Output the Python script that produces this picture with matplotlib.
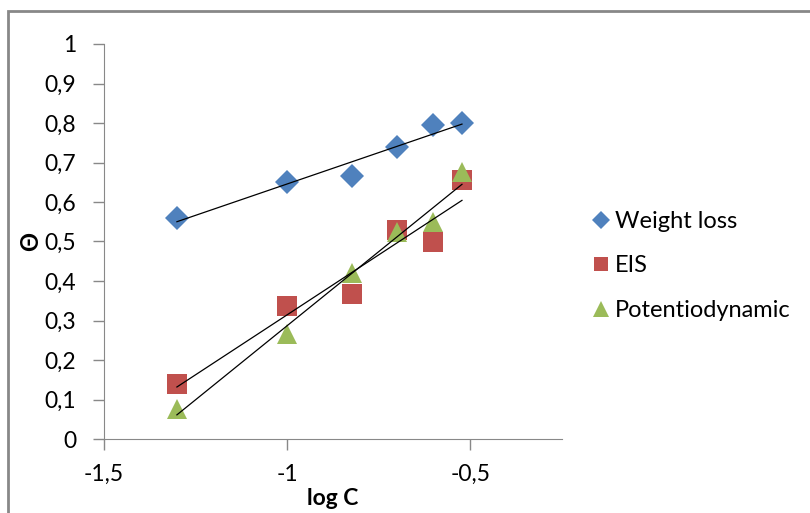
import matplotlib.pyplot as plt
import matplotlib.ticker as ticker
from matplotlib.patches import Rectangle
import numpy as np

log_c = [-1.301, -1.0, -0.824, -0.699, -0.602, -0.523]
weight_loss = [0.56, 0.65, 0.665, 0.738, 0.795, 0.80]
eis = [0.138, 0.337, 0.366, 0.528, 0.50, 0.656]
potentiodynamic = [0.075, 0.265, 0.42, 0.525, 0.55, 0.675]

plt.rcParams['font.family'] = ['Lato', 'DejaVu Sans']

fig = plt.figure(figsize=(8.1, 5.13), dpi=100)
ax = fig.add_axes([104/810, 1-439/513, (562-104)/810, (439-44)/513])

series = [
    ('Weight loss', weight_loss, 'D', '#4F81BD', 12),
    ('EIS', eis, 's', '#C0504D', 14),
    ('Potentiodynamic', potentiodynamic, '^', '#9BBB59', 15),
]
handles = []
for name, vals, mk, col, ms in series:
    h, = ax.plot(log_c, vals, linestyle='none', marker=mk, color=col,
                 markersize=ms, markeredgewidth=0, label=name, zorder=3)
    handles.append(h)

# linear trendlines
x = np.array(log_c)
for name, vals, mk, col, ms in series:
    a, b = np.polyfit(x, vals, 1)
    xs = np.array([x.min(), x.max()])
    ax.plot(xs, a*xs + b, color='black', lw=0.9, zorder=4)

ax.set_xlim(-1.5, -0.25)
ax.set_ylim(0, 1)
ax.xaxis.set_major_locator(ticker.FixedLocator([-1.5, -1.0, -0.5]))
ax.yaxis.set_major_locator(ticker.MultipleLocator(0.1))
fmt = ticker.FuncFormatter(lambda v, p: ('%g' % round(v, 2)).replace('.', ','))
ax.xaxis.set_major_formatter(fmt)
ax.yaxis.set_major_formatter(fmt)

for s in ['top', 'right']:
    ax.spines[s].set_visible(False)
for s in ['left', 'bottom']:
    ax.spines[s].set_color('#888888')
ax.tick_params(axis='both', colors='#888888', labelcolor='black', labelsize=16.5,
               length=8, width=1, direction='out')
ax.tick_params(axis='y', pad=12)
ax.tick_params(axis='x', pad=10)

ax.set_xlabel('log C', fontsize=16.5, fontweight='bold')
ax.set_ylabel('Θ', fontsize=17, fontweight='bold')
ax.xaxis.set_label_coords(0.5, -0.124)
ax.yaxis.set_label_coords(-0.136, 0.5)

ax.legend(handles=handles, loc='center left', bbox_to_anchor=(568/810, 1-266/513),
          bbox_transform=fig.transFigure, frameon=False, fontsize=17,
          handletextpad=0.1, handlelength=1.0, labelspacing=1.0, markerscale=0.75)

fig.patches.append(Rectangle((8/810, -0.1), 2, (513-11)/513 + 0.1, transform=fig.transFigure,
                             fill=False, edgecolor='#888888', lw=2))

fig.savefig('out.png', dpi=100)
